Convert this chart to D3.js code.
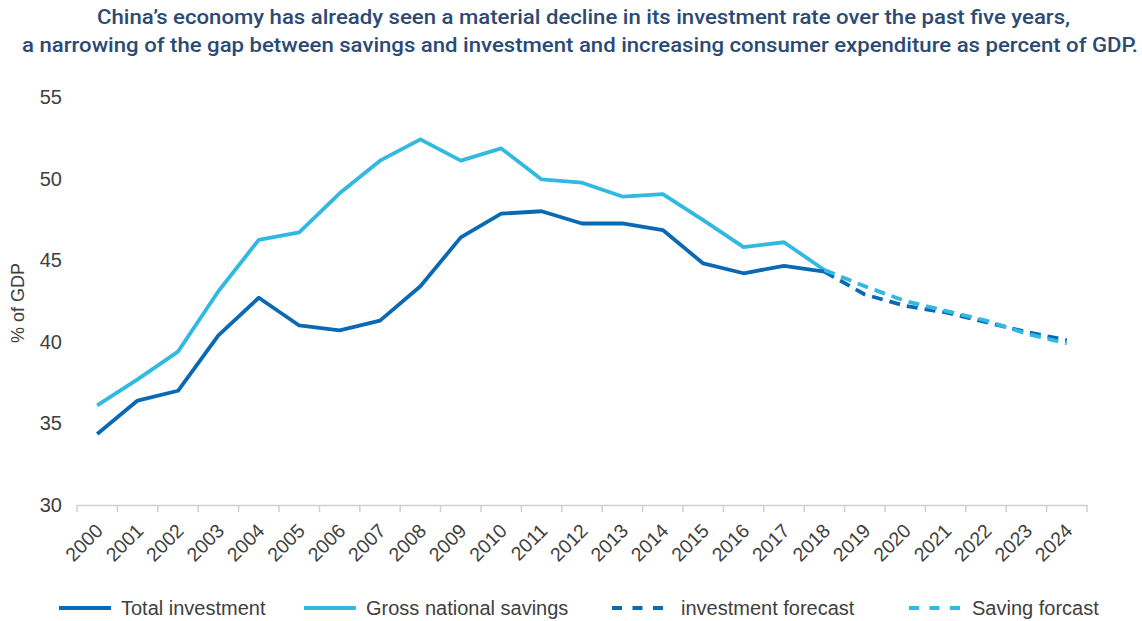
<!DOCTYPE html>
<html>
<head>
<meta charset="utf-8">
<script src="https://cdn.jsdelivr.net/npm/d3@7"></script>
<style>
  body { margin: 0; background: #fff; }
  #chart { width: 1142px; height: 621px; }
  text { font-family: "Liberation Sans", Arial, sans-serif; }
</style>
</head>
<body>
<div id="chart"></div>
<script>
(function () {
    const W = 1142, H = 621;

    // Data
    const years = d3.range(2000, 2025).map(String);
    const histYears = years.slice(0, 19);      // 2000-2018
    const forecastYears = years.slice(18);     // 2018-2024
    const investment = [34.35, 36.4, 37.0, 40.4, 42.7, 41.0, 40.7, 41.3, 43.4, 46.4, 47.85, 48.0, 47.25, 47.25, 46.85, 44.8, 44.2, 44.65, 44.3];
    const savings = [36.1, 37.7, 39.4, 43.1, 46.25, 46.7, 49.1, 51.1, 52.4, 51.1, 51.85, 49.95, 49.75, 48.9, 49.05, 47.45, 45.8, 46.1, 44.4];
    const investmentForecast = [44.3, 42.9, 42.2, 41.8, 41.2, 40.6, 40.1];
    const savingForecast = [44.4, 43.4, 42.5, 41.9, 41.3, 40.5, 39.9];
    const yTicks = [30, 35, 40, 45, 50, 55];
    const titleLines = [
        "China\u2019s economy has already seen a material decline in its investment rate over the past five years,",
        "a narrowing of the gap between savings and investment and increasing consumer expenditure as percent of GDP."
    ];
    const legendLabels = ["Total investment", "Gross national savings", "investment forecast", "Saving forcast"];

    const dark = "#0a69b3", light = "#31b9e1";

    const svg = d3.select("#chart")
        .append("svg")
        .attr("width", W)
        .attr("height", H);

    // Title (fit to the width of the original lines)
    const titleSpans = [[97, 1070], [22, 1138]];
    svg.append("g").selectAll("text")
        .data(titleLines)
        .enter().append("text")
        .attr("x", (d, i) => titleSpans[i][0])
        .attr("y", (d, i) => 24 + i * 28)
        .attr("textLength", (d, i) => titleSpans[i][1] - titleSpans[i][0])
        .attr("lengthAdjust", "spacingAndGlyphs")
        .style("font-family", "Roboto, 'Liberation Sans', sans-serif")
        .style("font-size", "20px")
        .style("font-weight", "500")
        .style("fill", "#2b4a74")
        .text(d => d);

    const x = d3.scaleBand().domain(years).range([77, 1087]).paddingInner(0).paddingOuter(0);
    const y = d3.scaleLinear().domain([30, 55]).range([505, 97]);
    const cx = d => x(d) + x.bandwidth() / 2;

    // X axis
    const xAxis = svg.append("g")
        .attr("transform", `translate(0,${y(30)})`)
        .call(d3.axisBottom(x).tickSize(0).tickSizeOuter(0).tickPadding(0));
    xAxis.select(".domain").attr("stroke", "#d0d0d0").attr("stroke-width", 1.5);
    xAxis.selectAll(".tick text")
        .attr("y", 0)
        .attr("dy", 0)
        .attr("transform", "translate(7,27) rotate(-45)")
        .style("text-anchor", "end")
        .style("font-size", "19.5px")
        .style("fill", "#404040");
    // category boundary ticks
    const bounds = years.map(d => x(d)).concat([x.range()[1]]);
    xAxis.selectAll(".bound")
        .data(bounds)
        .enter().append("line")
        .attr("class", "bound")
        .attr("x1", d => d).attr("x2", d => d)
        .attr("y1", 0).attr("y2", 7)
        .attr("stroke", "#d0d0d0")
        .attr("stroke-width", 1.5);

    // Y axis
    const yAxis = svg.append("g")
        .attr("transform", "translate(77,0)")
        .call(d3.axisLeft(y).tickValues(yTicks).tickSize(0).tickPadding(15));
    yAxis.select(".domain").remove();
    yAxis.selectAll(".tick text")
        .style("font-size", "20px")
        .style("fill", "#404040");

    svg.append("text")
        .attr("transform", "translate(24,303) rotate(-90)")
        .attr("text-anchor", "middle")
        .style("font-size", "18px")
        .style("fill", "#404040")
        .text("% of GDP");

    // Lines
    const line = d3.line().x(d => cx(d[0])).y(d => y(d[1]));
    function draw(xs, vals, color, dash) {
        svg.append("path")
            .datum(xs.map((d, i) => [d, vals[i]]))
            .attr("d", line)
            .attr("fill", "none")
            .attr("stroke", color)
            .attr("stroke-width", 3.8)
            .attr("stroke-linejoin", "round")
            .attr("stroke-dasharray", dash);
    }
    draw(histYears, savings, light, null);
    draw(histYears, investment, dark, null);
    draw(forecastYears, investmentForecast, dark, "11,7");
    draw(forecastYears, savingForecast, light, "11,7");

    // Legend
    const legendItems = [
        { lx: 59, tx: 121, color: dark, dash: null },
        { lx: 304, tx: 366, color: light, dash: null },
        { lx: 612, tx: 681, color: dark, dash: "10,10.5" },
        { lx: 909, tx: 972, color: light, dash: "10,10.5" }
    ];
    const legend = svg.selectAll(".legend")
        .data(legendLabels)
        .enter().append("g")
        .attr("class", "legend")
        .attr("transform", "translate(0,608)");
    legend.append("line")
        .attr("x1", (d, i) => legendItems[i].lx)
        .attr("x2", (d, i) => legendItems[i].lx + 52)
        .attr("stroke", (d, i) => legendItems[i].color)
        .attr("stroke-width", 3.8)
        .attr("stroke-dasharray", (d, i) => legendItems[i].dash);
    legend.append("text")
        .attr("x", (d, i) => legendItems[i].tx)
        .attr("dy", "0.35em")
        .style("font-size", "20px")
        .style("fill", "#404040")
        .text(d => d);
})();
</script>
</body>
</html>
